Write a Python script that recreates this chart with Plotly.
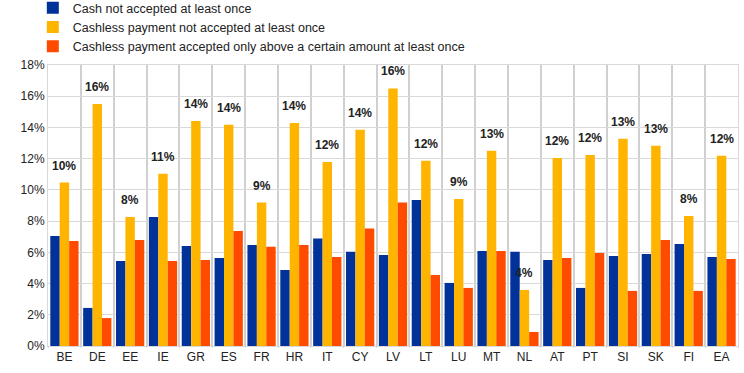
import plotly.graph_objects as go

countries = ["BE", "DE", "EE", "IE", "GR", "ES", "FR", "HR", "IT", "CY", "LV",
             "LT", "LU", "MT", "NL", "AT", "PT", "SI", "SK", "FI", "EA"]
cash_not_accepted = [7.05, 2.44, 5.45, 8.27, 6.41, 5.64, 6.47, 4.87, 6.88, 6.03, 5.83,
                     9.36, 4.04, 6.09, 6.03, 5.51, 3.72, 5.77, 5.90, 6.54, 5.70]
cashless_not_accepted = [10.47, 15.5, 8.27, 11.03, 14.42, 14.17, 9.19, 14.29, 11.79, 13.85, 16.5,
                         11.86, 9.42, 12.5, 3.59, 12.05, 12.24, 13.27, 12.82, 8.33, 12.18]
cashless_above_amount = [6.73, 1.79, 6.79, 5.45, 5.51, 7.37, 6.35, 6.47, 5.70, 7.52, 9.19,
                         4.55, 3.72, 6.09, 0.9, 5.64, 5.96, 3.53, 6.79, 3.53, 5.58]
bar_labels = ["10%", "16%", "8%", "11%", "14%", "14%", "9%", "14%", "12%", "14%", "16%",
              "12%", "9%", "13%", "4%", "12%", "12%", "13%", "13%", "8%", "12%"]
series_names = ["Cash not accepted at least once",
                "Cashless payment not accepted at least once",
                "Cashless payment accepted only above a certain amount at least once"]
colors = ["#003299", "#FFB400", "#FF4B00"]
y_ticks = [0, 2, 4, 6, 8, 10, 12, 14, 16, 18]

n = len(countries)
fig = go.Figure()
for name, vals, col in zip(series_names,
                           [cash_not_accepted, cashless_not_accepted, cashless_above_amount],
                           colors):
    fig.add_trace(go.Bar(x=countries, y=vals, name=name, marker=dict(color=col, line=dict(width=0))))

for c, v, lab in zip(countries, cashless_not_accepted, bar_labels):
    fig.add_annotation(x=c, y=v, text="<b>%s</b>" % lab, showarrow=False,
                       yanchor="bottom", yshift=8,
                       font=dict(family="Liberation Sans, Arial", size=12, color="#222222"))

fig.update_layout(
    width=744, height=373,
    margin=dict(l=48, r=6, t=65, b=27, autoexpand=False),
    barmode="group", bargap=0.14, bargroupgap=0,
    plot_bgcolor="white", paper_bgcolor="white",
    font=dict(family="Liberation Sans, Arial", size=12, color="#222222"),
    legend=dict(x=-0.022, xanchor="left", y=1.256, yanchor="top",
                font=dict(size=12.5), tracegroupgap=0, itemwidth=30,
                bgcolor="rgba(0,0,0,0)"),
    showlegend=True,
    xaxis=dict(type="category", tickson="boundaries", showgrid=True, gridcolor="#d0d0d0",
               gridwidth=1.5, showline=True, linecolor="#d9d9d9", mirror=True,
               ticks="outside", ticklen=1, tickcolor="#d9d9d9",
               tickfont=dict(size=12, color="#222222"), range=[-0.5, n - 0.5]),
    yaxis=dict(range=[0, 18], tickvals=y_ticks, ticktext=["%d%%" % t for t in y_ticks],
               showgrid=True, gridcolor="#d9d9d9", gridwidth=1, zeroline=False,
               showline=True, linecolor="#d9d9d9", mirror=True, ticks="",
               tickfont=dict(size=12, color="#222222")),
)

fig.write_html("out.html", config={"displayModeBar": False},
               post_script="document.body.style.margin='0';document.body.style.padding='0';")
